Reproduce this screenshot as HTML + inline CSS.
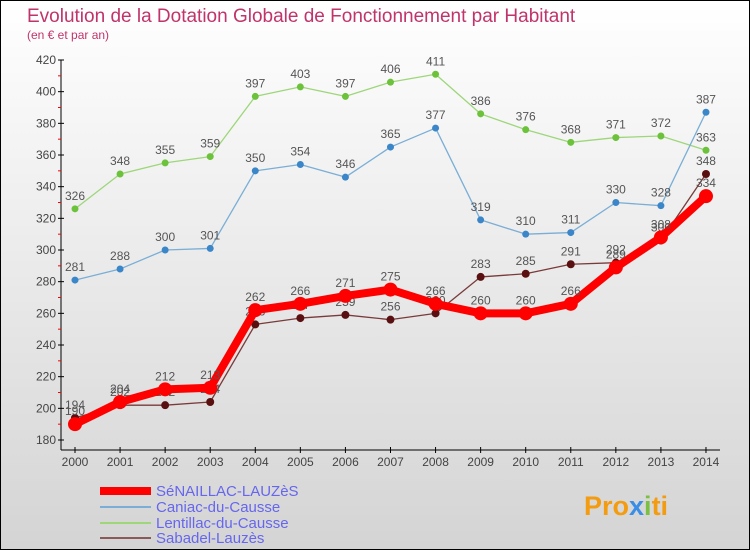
<!DOCTYPE html>
<html><head><meta charset="utf-8"><style>
body{margin:0}
#c{width:748px;height:548px;border:1px solid #000;background:linear-gradient(#ffffff,#d4d4d4);position:relative;overflow:hidden}
svg{position:absolute;left:-1px;top:-1px;font-family:"Liberation Sans",sans-serif}
</style></head><body>
<div id="c">
<svg id="s" width="750" height="550">
<text x="27" y="22" font-size="19" fill="#c0336b">Evolution de la Dotation Globale de Fonctionnement par Habitant</text>
<text x="27" y="39" font-size="12" fill="#c0336b">(en € et par an)</text>
<g id="g"></g>
<text x="584" y="515" font-size="27" font-weight="bold" fill="#f39c12">Pro<tspan fill="#3a8ee6">x</tspan><tspan fill="#7cc043">i</tspan>ti</text>
</svg></div>
<script>
const years=[2000,2001,2002,2003,2004,2005,2006,2007,2008,2009,2010,2011,2012,2013,2014];
const senaillac=[190,204,212,213,262,266,271,275,266,260,260,266,289,308,334];
const caniac=[281,288,300,301,350,354,346,365,377,319,310,311,330,328,387];
const lentillac=[326,348,355,359,397,403,397,406,411,386,376,368,371,372,363];
const sabadel=[194,202,202,204,253,257,259,256,260,283,285,291,292,306,348];
const yTicks=[180,200,220,240,260,280,300,320,340,360,380,400,420];
const names=["SéNAILLAC-LAUZèS","Caniac-du-Causse","Lentillac-du-Causse","Sabadel-Lauzès"];
const NS="http://www.w3.org/2000/svg",g=document.getElementById('g');
const X=i=>75+i*45.07, Y=v=>440-(v-180)*380/240;
function mk(t,a,p){const e=document.createElementNS(NS,t);for(const k in a)e.setAttribute(k,a[k]);(p||g).appendChild(e);return e;}
let ax=mk('line',{x1:61,y1:60,x2:61,y2:450,stroke:'#000'});


let bx=mk('line',{x1:61,y1:450,x2:720,y2:450,stroke:'#000'});


yTicks.forEach((v,i)=>{mk('line',{x1:58,y1:Y(v),x2:64,y2:Y(v),stroke:'#000'});
if(i<yTicks.length-1)mk('line',{x1:58,y1:Y(v+10),x2:61,y2:Y(v+10),stroke:'red'});
const t=mk('text',{x:56,y:Y(v)+4,'font-size':12,fill:'#444','text-anchor':'end'});t.textContent=v;

});
years.forEach((y,i)=>{mk('line',{x1:X(i),y1:447,x2:X(i),y2:453,stroke:'#000'});
const t=mk('text',{x:X(i),y:466,'font-size':12,fill:'#444','text-anchor':'middle'});t.textContent=y;

});
function series(d,col,w,r,fill,name){
const p=mk('polyline',{points:d.map((v,i)=>X(i)+','+Y(v)).join(' '),fill:'none',stroke:col,'stroke-width':w,'stroke-linejoin':'round'});


d.forEach((v,i)=>{const c=mk('circle',{cx:X(i),cy:Y(v),r:r,fill:fill});


const t=mk('text',{x:X(i),y:Y(v)-9,'font-size':12,fill:'#555','text-anchor':'middle'});t.textContent=v;

});}
series(lentillac,'#9ed67a',1.3,3.5,'#6cc23a','lentillac');
series(caniac,'#7aaed6',1.3,3.5,'#3a86c8','caniac');
series(sabadel,'#7a3a3a',1.3,4,'#5a1010','sabadel');
series(senaillac,'#ff0000',8,7,'#ff0000','senaillac');
const cols=['#ff0000','#7aaed6','#9ed67a','#8a5a5a'],ws=[8,2,2,2],ly=[491,507,523,538];
names.forEach((n,i)=>{const l=mk('line',{x1:100,y1:ly[i],x2:151,y2:ly[i],stroke:cols[i],'stroke-width':ws[i]});


const t=mk('text',{x:156,y:ly[i]+5,'font-size':15,fill:'#6666ee'});t.textContent=n;

});
</script></body></html>
